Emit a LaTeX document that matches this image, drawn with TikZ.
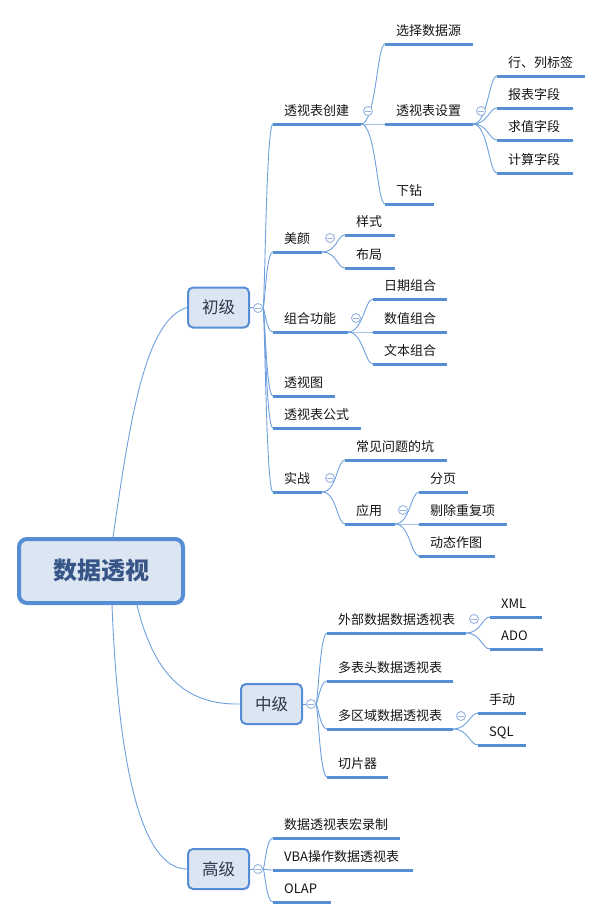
\documentclass[tikz,border=0pt]{standalone}
\usepackage{fontspec}
\setmainfont{Noto Sans CJK SC}
\usetikzlibrary{backgrounds}
\definecolor{lineblue}{RGB}{85,142,213}
\definecolor{connblue}{RGB}{110,160,222}
\definecolor{boxfill}{RGB}{220,230,242}
\definecolor{foldblue}{RGB}{150,180,225}
\definecolor{roottext}{RGB}{55,85,135}
\definecolor{lvtext}{RGB}{45,55,75}
\definecolor{leafcol}{RGB}{20,20,20}
\tikzset{
  uline/.style={draw=lineblue, line width=3pt},
  conn/.style={draw=connblue, line width=0.9pt},
  leaftext/.style={anchor=base west, inner sep=0pt, font=\fontsize{13}{15}\selectfont, text=leafcol},
  rootbox/.style={draw=lineblue, fill=boxfill, line width=4pt, rounded corners=8pt,
    minimum width=164pt, minimum height=64pt, font=\fontsize{24}{28}\selectfont\bfseries, text=roottext},
  lvbox/.style={draw=lineblue, fill=boxfill, line width=2pt, rounded corners=5pt,
    minimum width=61pt, minimum height=40pt, font=\fontsize{16.5}{19}\selectfont, text=lvtext},
  foldc/.style={circle, draw=foldblue, fill=white, line width=0.9pt, minimum size=9pt, inner sep=0pt,
    path picture={\draw[foldblue, line width=0.9pt] ([xshift=-2.6pt]path picture bounding box.center) -- ([xshift=2.6pt]path picture bounding box.center);}},
}
\newcommand\leaf[5]{%
  \coordinate (#1-s) at (#2,#4);
  \coordinate (#1-e) at (#3,#4);
  \draw[uline] (#1-s) -- (#1-e);
  \node[leaftext] (#1) at (#2+11,#4-9) {#5};
}
\begin{document}
\begin{tikzpicture}[x=1pt,y=-1pt]
\useasboundingbox (0,0) rectangle (603,919);
\node[rootbox] (root) at (101,571) {数据透视};
\node[lvbox] (chuji) at (218.5,307.5) {初级};
\node[lvbox] (zhongji) at (271.5,704) {中级};
\node[lvbox] (gaoji) at (218.5,869) {高级};
% 初级 children
\leaf{cj1}{273}{361}{124}{透视表创建}
\leaf{cj2}{273}{322}{252}{美颜}
\leaf{cj3}{273}{348}{332}{组合功能}
\leaf{cj4}{273}{335}{396}{透视图}
\leaf{cj5}{273}{361}{428}{透视表公式}
\leaf{cj6}{273}{322}{492}{实战}
\leaf{ts1}{385}{473}{44}{选择数据源}
\leaf{ts2}{385}{473}{124}{透视表设置}
\leaf{ts3}{385}{434}{204}{下钻}
\leaf{sz1}{497}{585}{76}{行、列标签}
\leaf{sz2}{497}{573}{108}{报表字段}
\leaf{sz3}{497}{573}{140}{求值字段}
\leaf{sz4}{497}{573}{173}{计算字段}
\leaf{my1}{345}{395}{235}{样式}
\leaf{my2}{345}{395}{268}{布局}
\leaf{zh1}{373}{447}{299}{日期组合}
\leaf{zh2}{373}{447}{332}{数值组合}
\leaf{zh3}{373}{447}{364}{文本组合}
\leaf{sc1}{345}{447}{460}{常见问题的坑}
\leaf{sc2}{345}{395}{524}{应用}
\leaf{yy1}{419}{468}{492}{分页}
\leaf{yy2}{419}{507}{524}{剔除重复项}
\leaf{yy3}{419}{495}{556}{动态作图}
% 中级 children
\leaf{zj1}{327}{466}{633}{外部数据数据透视表}
\leaf{zj2}{327}{453}{681}{多表头数据透视表}
\leaf{zj3}{327}{453}{729}{多区域数据透视表}
\leaf{zj4}{327}{388}{777}{切片器}
\leaf{wb1}{490}{542}{617}{XML}
\leaf{wb2}{490}{543}{649}{ADO}
\leaf{dq1}{478}{526}{713}{手动}
\leaf{dq2}{478}{526}{745}{SQL}
% 高级 children
\leaf{gj1}{273}{400}{838}{数据透视表宏录制}
\leaf{gj2}{273}{413}{870}{VBA操作数据透视表}
\leaf{gj3}{273}{331}{902}{OLAP}
% fold markers
\node[foldc] (f-chuji) at (258,308) {};
\node[foldc] (f-zhongji) at (311,704) {};
\node[foldc] (f-gaoji) at (258,869) {};
\node[foldc] (f-cj1) at (368,111) {};
\node[foldc] (f-ts2) at (481,111) {};
\node[foldc] (f-cj2) at (330,238) {};
\node[foldc] (f-cj3) at (356,318) {};
\node[foldc] (f-cj6) at (330,478) {};
\node[foldc] (f-sc2) at (403,510) {};
\node[foldc] (f-zj1) at (474,619) {};
\node[foldc] (f-zj3) at (461,716) {};
\begin{scope}[on background layer]
  \draw[conn] ([xshift=12pt]root.north) .. controls (130,420) and (145,320) .. (chuji.west);
  \draw[conn] ([xshift=36pt]root.south) .. controls (155,680) and (190,705) .. (zhongji.west);
  \draw[conn] ([xshift=11pt]root.south) .. controls (118,760) and (140,869) .. (gaoji.west);
  \draw[conn] (chuji.east) -- (f-chuji.center);
  \foreach \c in {cj1,cj2,cj3,cj4,cj5,cj6}
    \draw[conn] (f-chuji.east) .. controls +(2,0) and +(-7,0) .. (\c-s);
  \foreach \c in {ts1,ts2,ts3}
    \draw[conn] (cj1-e) .. controls +(15,0) and +(-8,0) .. (\c-s);
  \foreach \c in {sz1,sz2,sz3,sz4}
    \draw[conn] (ts2-e) .. controls +(15,0) and +(-8,0) .. (\c-s);
  \foreach \c in {my1,my2}
    \draw[conn] (cj2-e) .. controls +(15,0) and +(-8,0) .. (\c-s);
  \foreach \c in {zh1,zh2,zh3}
    \draw[conn] (cj3-e) .. controls +(15,0) and +(-8,0) .. (\c-s);
  \foreach \c in {sc1,sc2}
    \draw[conn] (cj6-e) .. controls +(15,0) and +(-8,0) .. (\c-s);
  \foreach \c in {yy1,yy2,yy3}
    \draw[conn] (sc2-e) .. controls +(15,0) and +(-8,0) .. (\c-s);
  \draw[conn] (zhongji.east) -- (f-zhongji.center);
  \foreach \c in {zj1,zj2,zj3,zj4}
    \draw[conn] (f-zhongji.east) .. controls +(2,0) and +(-7,0) .. (\c-s);
  \foreach \c in {wb1,wb2}
    \draw[conn] (zj1-e) .. controls +(15,0) and +(-8,0) .. (\c-s);
  \foreach \c in {dq1,dq2}
    \draw[conn] (zj3-e) .. controls +(15,0) and +(-8,0) .. (\c-s);
  \draw[conn] (gaoji.east) -- (f-gaoji.center);
  \foreach \c in {gj1,gj2,gj3}
    \draw[conn] (f-gaoji.east) .. controls +(2,0) and +(-7,0) .. (\c-s);
\end{scope}
\end{tikzpicture}
\end{document}
